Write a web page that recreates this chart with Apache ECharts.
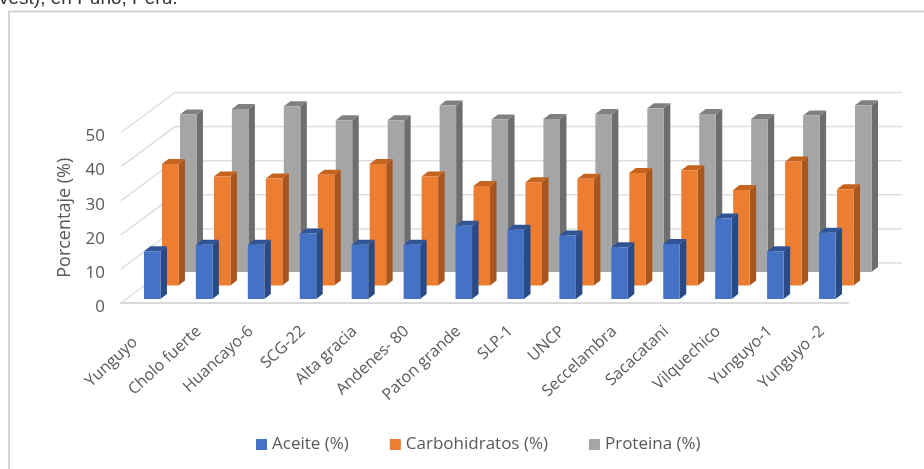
<!DOCTYPE html>
<html>
<head>
<meta charset="utf-8">
<script src="https://cdn.jsdelivr.net/npm/echarts@6/dist/echarts.min.js"></script>
<style>
html,body{margin:0;padding:0;background:#fff;overflow:hidden}
#chart{width:924px;height:469px;filter:blur(0.6px)}
</style>
</head>
<body>
<div id="chart"></div>
<script>
var categories = ['Yunguyo','Cholo fuerte','Huancayo-6','SCG-22','Alta gracia','Andenes- 80','Paton grande','SLP-1','UNCP','Seccelambra','Sacacatani','Vilquechico','Yunguyo-1','Yunguyo -2'];
var aceite = [14.0,15.9,15.9,19.2,15.9,15.9,21.5,20.3,18.6,15.2,16.1,23.6,14.0,19.4];
var carbohidratos = [35.6,32.0,31.4,32.5,35.6,32.0,29.2,30.3,31.3,33.0,33.8,28.0,36.4,28.2];
var proteina = [46.2,47.8,48.6,44.5,44.5,48.8,44.7,44.9,46.3,48.0,46.3,44.9,45.9,48.9];
var yTicks = [0,10,20,30,40,50];

var chart = echarts.init(document.getElementById('chart'));
var textColor = '#595959';
var fontName = '"Open Sans"';

// caja pseudo 3D: desplazamiento del fondo y de cada fila de barras
var wallDx = 54, wallDy = -40;
var barWidth = 16.5, barDx = 6.5, barDy = -5;

function bar3d(color, side, roof, shiftX, shiftY){
	return function(params, api){
		var i = api.value(0);
		var base = api.coord([i, 0]);
		var top = api.coord([i, api.value(1)]);
		var x0 = base[0] + shiftX, x1 = x0 + barWidth;
		var y0 = base[1] + shiftY, y1 = top[1] + shiftY;
		return {
			type: 'group',
			children: [{
				type: 'polygon',
				shape: {points: [[x1,y0],[x1+barDx,y0+barDy],[x1+barDx,y1+barDy],[x1,y1]]},
				style: {fill: side}
			},{
				type: 'polygon',
				shape: {points: [[x0,y1],[x1,y1],[x1+barDx,y1+barDy],[x0+barDx,y1+barDy]]},
				style: {fill: roof}
			},{
				type: 'rect',
				shape: {x: x0, y: y1, width: barWidth, height: y0-y1},
				style: {fill: color}
			}]
		};
	};
}

function pairs(values){
	var out = [];
	for(var i=0;i<values.length;i++){
		out.push([i, values[i]]);
	}
	return out;
}

// la primera etiqueta queda mas abajo que las demas en el original
var categoryItems = categories.map(function(name, i){
	return i == 0 ? {value: name, textStyle: {padding: [0,16,0,0]}} : name;
});

var option = {
	backgroundColor: '#fff',
	animation: false,
	textStyle: {fontFamily: fontName},
	graphic: [{
		type: 'text', left: -1, top: -11,
		style: {text: 'vest), en Puno, Perú.', fill: '#333', fontSize: 19, fontFamily: '"Liberation Sans"'}
	},{
		type: 'polyline', z: -1,
		shape: {points: [[9,469],[9,11.5],[924,11.5]]},
		style: {stroke: '#d4d4d4', lineWidth: 2, fill: null}
	}],
	grid: {left: 121, width: 727, top: 132.5, height: 170.5},
	legend: {
		left: 251, top: 431,
		data: ['Aceite (%)','Carbohidratos (%)','Proteina (%)'],
		icon: 'rect', itemWidth: 11, itemHeight: 11, itemGap: 41,
		textStyle: {color: textColor, fontSize: 17, fontFamily: fontName}
	},
	xAxis: {
		type: 'category',
		data: categoryItems,
		axisTick: {show: false},
		axisLine: {lineStyle: {color: '#d9d9d9', width: 2}},
		axisLabel: {interval: 0, rotate: 43, margin: 26, color: textColor, fontSize: 16, fontFamily: fontName}
	},
	yAxis: {
		type: 'value', min: 0, max: 50, interval: 10,
		name: 'Porcentaje (%)', nameLocation: 'middle', nameGap: 47,
		nameTextStyle: {color: textColor, fontSize: 18, fontFamily: fontName},
		axisLine: {show: false},
		axisTick: {show: false},
		splitLine: {show: false},
		axisLabel: {margin: 16, verticalAlign: 'top', lineHeight: 8, color: textColor, fontSize: 17, fontFamily: fontName}
	},
	series: [{
		// lineas de la pared izquierda y del fondo
		type: 'custom', silent: true, z: 1,
		data: yTicks.map(function(t){return [0, t];}),
		renderItem: function(params, api){
			var p = api.coord([0, api.value(1)]);
			var band = api.size([1, 0])[0];
			var left = p[0] - band/2;
			var right = left + band*categories.length;
			return {
				type: 'polyline',
				shape: {points: [[left,p[1]],[left+wallDx,p[1]+wallDy],[right+wallDx,p[1]+wallDy]]},
				style: {stroke: '#dedede', lineWidth: 1.5, fill: null}
			};
		}
	},{
		name: 'Proteina (%)', type: 'custom', z: 2,
		itemStyle: {color: '#A5A5A5'},
		data: pairs(proteina),
		renderItem: bar3d('#A5A5A5','#6E6E6E','#808080',33,-31)
	},{
		name: 'Carbohidratos (%)', type: 'custom', z: 3,
		itemStyle: {color: '#ED7D31'},
		data: pairs(carbohidratos),
		renderItem: bar3d('#ED7D31','#A9561E','#C5641F',15,-17.5)
	},{
		name: 'Aceite (%)', type: 'custom', z: 4,
		itemStyle: {color: '#4472C4'},
		data: pairs(aceite),
		renderItem: bar3d('#4472C4','#2A4A85','#305496',-3,-4)
	}]
};
chart.setOption(option);
</script>
</body>
</html>
